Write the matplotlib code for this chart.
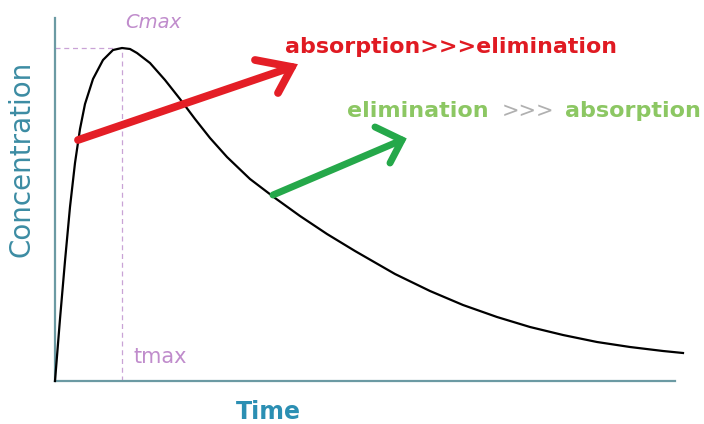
import matplotlib
matplotlib.use("Agg")
import matplotlib.pyplot as plt

# concentration-time curve
time = [0, 5, 10, 15, 20, 25, 30, 38, 48, 58, 67, 75, 82, 95, 110, 125, 140,
        155, 172, 195, 220, 245, 272, 300, 340, 375, 408, 442, 475, 508, 542,
        575, 608, 628]
conc = [0, 62, 120, 174, 218, 252, 277, 302, 321, 331, 333, 332, 328, 318, 301,
        282, 262, 243, 224, 202, 183, 165, 147, 130, 107, 90, 76, 64, 54, 46,
        39, 34, 30, 28]

t_max = 67
c_max = 333

# arrows: shaft start, tip, upper arm end, lower arm end
red_arrow_x = [23, 237, 200, 223]
red_arrow_y = [241, 314, 321, 288]
green_arrow_x = [218, 347, 320, 335]
green_arrow_y = [186, 241, 254, 218]

fig = plt.figure(figsize=(7.04, 4.24), dpi=100)
ax = fig.add_axes([55 / 704, 43 / 424, 630 / 704, 363 / 424])
ax.set_xlim(0, 630)
ax.set_ylim(0, 363)

axis_col = "#6b9aa3"
for s in ["top", "right"]:
    ax.spines[s].set_visible(False)
ax.spines["left"].set_color(axis_col)
ax.spines["bottom"].set_color(axis_col)
ax.spines["left"].set_linewidth(1.6)
ax.spines["bottom"].set_linewidth(1.6)
ax.spines["bottom"].set_bounds(0, 620)
ax.set_xticks([])
ax.set_yticks([])

# dashed guides to the peak
guide = "#c9a3d6"
ax.plot([0, t_max], [c_max, c_max], ls=(0, (4, 3)), color=guide, lw=0.9)
ax.plot([t_max, t_max], [0, c_max], ls=(0, (4, 3)), color=guide, lw=0.9)

ax.plot(time, conc, color="black", lw=1.6, clip_on=False, zorder=3,
        solid_joinstyle="round")

# arrows drawn as shaft + two arms
def draw_arrow(xs, ys, col, lw):
    ax.plot([xs[0], xs[1]], [ys[0], ys[1]], color=col, lw=lw,
            solid_capstyle="round", zorder=4)
    ax.plot([xs[2], xs[1], xs[3]], [ys[2], ys[1], ys[3]], color=col, lw=lw,
            solid_capstyle="round", solid_joinstyle="miter", zorder=4)

draw_arrow(red_arrow_x, red_arrow_y, "#e41e26", 5.6)
draw_arrow(green_arrow_x, green_arrow_y, "#25a84a", 5.0)

ax.text(230, 334, "absorption>>>elimination", color="#e01a22",
        fontsize=15.9, fontweight="bold", va="center", ha="left")

green_txt = "#8cc763"
ax.text(292, 270, "elimination", color=green_txt, fontsize=16,
        fontweight="bold", va="center", ha="left")
ax.text(447, 270, ">>>", color="#b0b0b0", fontsize=15, va="center", ha="left")
ax.text(510, 270, "absorption", color=green_txt, fontsize=16,
        fontweight="bold", va="center", ha="left", clip_on=False)

ax.text(70, 359, "Cmax", color="#c08ccc", fontsize=14, style="italic",
        va="center", ha="left", clip_on=False)
ax.text(78, 24, "tmax", color="#c08ccc", fontsize=15, va="center", ha="left")

fig.text(22 / 704, 1 - 159 / 424, "Concentration", rotation=90,
         color="#3c8ca3", fontsize=20, va="center", ha="center")
fig.text(268 / 704, 1 - 412 / 424, "Time", color="#2b8fb3", fontsize=17,
         fontweight="bold", va="center", ha="center")

fig.savefig("out.png", dpi=100)
